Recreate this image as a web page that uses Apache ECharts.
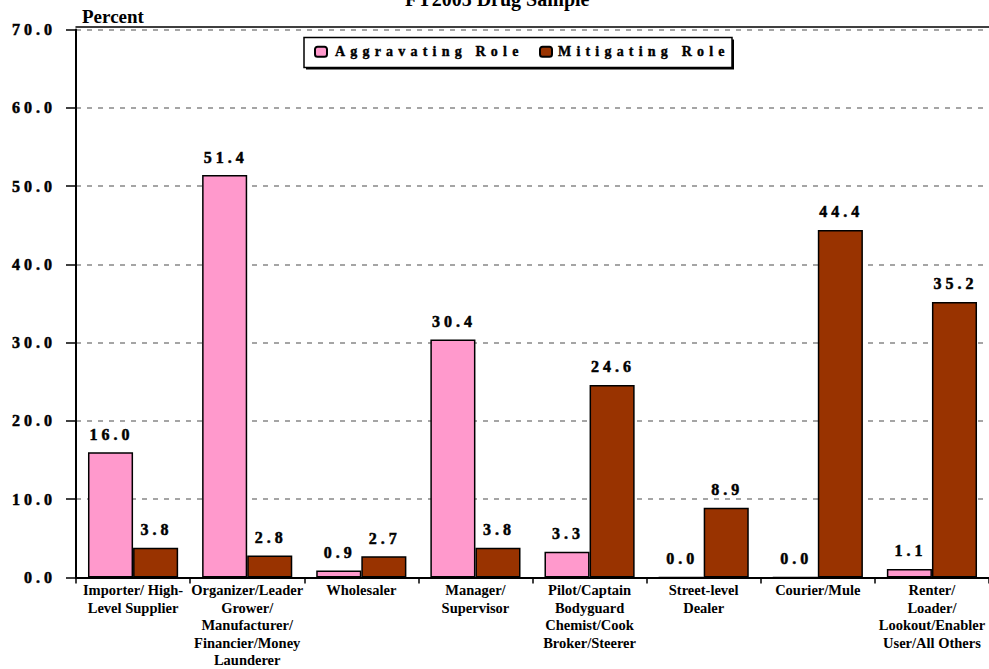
<!DOCTYPE html>
<html><head><meta charset="utf-8">
<script src="https://cdn.jsdelivr.net/npm/echarts@6/dist/echarts.min.js"></script>
<style>html,body{margin:0;padding:0;background:#fff}#c{width:989px;height:669px}</style>
</head><body><div id="c"></div>
<script>
const titleText = 'FY2005 Drug Sample';
const yAxisName = 'Percent';
const categories = [
  'Importer/ High-\nLevel Supplier',
  'Organizer/Leader\nGrower/\nManufacturer/\nFinancier/Money\nLaunderer',
  'Wholesaler',
  'Manager/\nSupervisor',
  'Pilot/Captain\nBodyguard\nChemist/Cook\nBroker/Steerer',
  'Street-level\nDealer',
  'Courier/Mule',
  'Renter/\nLoader/\nLookout/Enabler\nUser/All Others'
];
const seriesNames = ['Aggravating Role', 'Mitigating Role'];
const aggravating = [16.0, 51.4, 0.9, 30.4, 3.3, 0.0, 0.0, 1.1];
const mitigating = [3.8, 2.8, 2.7, 3.8, 24.6, 8.9, 44.4, 35.2];
const yTickLabels = ['0.0', '10.0', '20.0', '30.0', '40.0', '50.0', '60.0', '70.0'];

const FONT = '"Liberation Serif", "Times New Roman", serif';
const chart = echarts.init(document.getElementById('c'), null, {renderer: 'svg'});
const labelStyle = {
  show: true, position: 'top', distance: 10, offset: [1, 0],
  fontFamily: FONT, fontWeight: 'bold', fontSize: 16, color: '#000',
  textBorderColor: '#000', textBorderWidth: 0.5,
  formatter: p => p.value.toFixed(1)
};
const legendText = {fontFamily: FONT, fontWeight: 'bold', fontSize: 14, color: '#000', textBorderColor: '#000', textBorderWidth: 0.4};
chart.setOption({
  animation: false,
  backgroundColor: '#fff',
  title: {
    text: titleText, left: 405, top: -11, padding: 0,
    textStyle: {fontFamily: FONT, fontWeight: 'bold', fontSize: 20, color: '#000'}
  },
  legend: [
    {data: [seriesNames[0]], left: 314, top: 44.5, padding: 0, itemWidth: 12, itemHeight: 10, z: 5,
     textStyle: Object.assign({padding: [0, 0, 0, 3]}, legendText)},
    {data: [seriesNames[1]], left: 539, top: 44.5, padding: 0, itemWidth: 12, itemHeight: 10, z: 5,
     textStyle: Object.assign({padding: [0, 0, 0, 1]}, legendText)}
  ],
  graphic: [
    {type: 'rect', z: 3, shape: {x: 306, y: 39.5, width: 428, height: 30}, style: {fill: '#000'}},
    {type: 'rect', z: 3, shape: {x: 304, y: 37.5, width: 428, height: 30}, style: {fill: '#fff', stroke: '#000', lineWidth: 1.5}}
  ],
  grid: {left: 76, right: -5, top: 29.5, bottom: 89.5},
  xAxis: [{
    type: 'category', data: categories,
    axisLine: {lineStyle: {color: '#000', width: 2}},
    axisTick: {show: true, length: 6, lineStyle: {color: '#000', width: 1.5}},
    axisLabel: {interval: 0, margin: 4, fontFamily: FONT, fontWeight: 'bold', fontSize: 14.5, lineHeight: 17.5, color: '#000'}
  }, {
    type: 'category', data: categories, position: 'top', offset: 2.5,
    axisLine: {show: true, lineStyle: {color: '#000', width: 1.5}},
    axisTick: {show: false}, axisLabel: {show: false}
  }],
  yAxis: {
    type: 'value', min: 0, max: 70, interval: 10,
    name: yAxisName, nameLocation: 'end', nameGap: 4,
    nameTextStyle: {fontFamily: FONT, fontWeight: 'bold', fontSize: 19, color: '#000', align: 'left', verticalAlign: 'bottom', padding: [0, 0, 0, 6]},
    axisLine: {show: true, lineStyle: {color: '#000', width: 2}},
    axisTick: {show: true, length: 10, lineStyle: {color: '#000', width: 1.5}},
    axisLabel: {margin: 20, fontFamily: FONT, fontWeight: 'bold', fontSize: 16, color: '#000',
      textBorderColor: '#000', textBorderWidth: 0.5,
      formatter: (v, i) => yTickLabels[i]},
    splitLine: {show: true, lineStyle: {color: '#888', width: 1.5, type: [5, 6]}}
  },
  series: [
    {name: seriesNames[0], type: 'bar', data: aggravating, barGap: '0%', barCategoryGap: '21%',
     itemStyle: {color: '#FF99CC', borderColor: '#000', borderWidth: 1.5}, label: labelStyle},
    {name: seriesNames[1], type: 'bar', data: mitigating,
     itemStyle: {color: '#993300', borderColor: '#000', borderWidth: 1.5}, label: labelStyle}
  ]
});
function spaceText() {
  document.querySelectorAll('#c svg text').forEach(t => {
    const s = t.textContent.trim();
    if (/^\d+\.\d$/.test(s)) t.setAttribute('letter-spacing', '4');
    else if (seriesNames.includes(s)) t.setAttribute('letter-spacing', '5.2');
  });
}
chart.getZr().flush();
spaceText();
chart.on('finished', spaceText);
</script></body></html>
